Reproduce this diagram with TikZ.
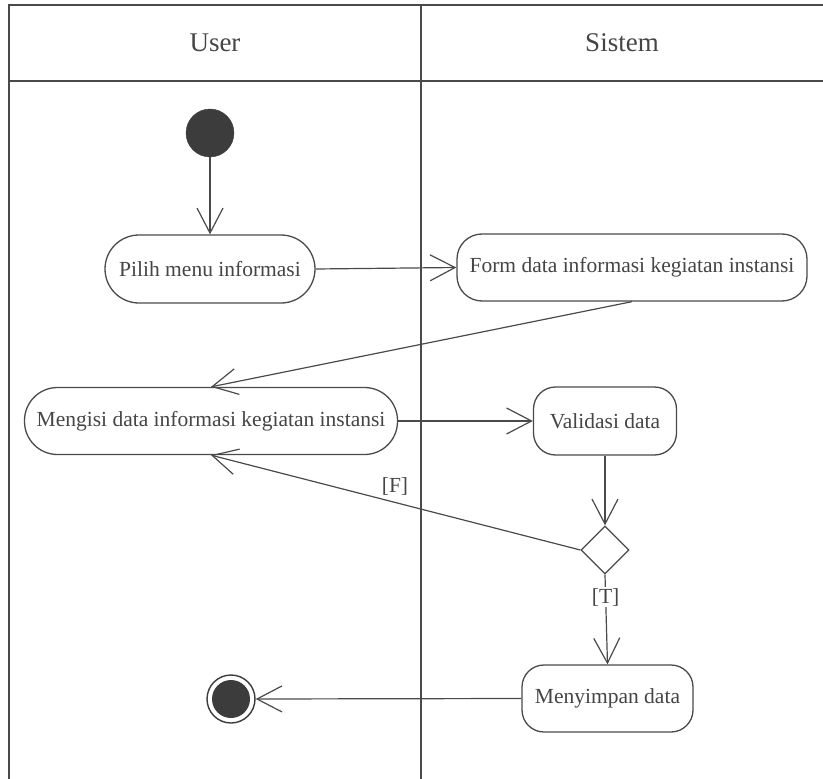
\documentclass[tikz,border=0pt]{standalone}
\usepackage{fontspec}
\setmainfont{Liberation Serif}
\usetikzlibrary{arrows.meta,shapes.geometric}
\definecolor{ln}{HTML}{4A4A4A}
\definecolor{tx}{HTML}{454545}
\definecolor{dk}{HTML}{3C3C3C}
\tikzset{
  act/.style={draw=ln, line width=1.3pt, fill=white, text=tx, rectangle, inner sep=0pt,
    font=\fontsize{21.5}{25}\selectfont},
  flow/.style={draw=ln, line width=1.2pt, -{Straight Barb[length=25pt,width=26pt,line width=1.2pt]}},
  lbl/.style={text=tx, font=\fontsize{21.5}{25}\selectfont, inner sep=1pt},
  hdr/.style={text=tx, font=\fontsize{27}{32}\selectfont},
  frame/.style={draw=ln, line width=1.6pt}
}
\begin{document}
\begin{tikzpicture}[x=1pt,y=-1pt]
\useasboundingbox (0,0) rectangle (823,779);
% swimlanes
\draw[frame] (9,779) -- (9,5) -- (823,5);
\draw[frame] (9,81) -- (823,81);
\draw[frame] (421,5) -- (421,779);
\node[hdr] (huser) at (215,43) {User};
\node[hdr] (hsis) at (622,43) {Sistem};
% nodes
\node[circle, fill=dk, draw=dk, minimum size=48pt, inner sep=0pt] (start) at (210,133) {};
\node[act, minimum width=210pt, minimum height=68pt, rounded corners=34pt] (pilih) at (210,269) {Pilih menu informasi};
\node[act, minimum width=350pt, minimum height=67pt, rounded corners=25pt] (form) at (632,267.5) {Form data informasi kegiatan instansi};
\node[act, minimum width=373pt, minimum height=67pt, rounded corners=33pt] (mengisi) at (211,421) {Mengisi data informasi kegiatan instansi};
\node[act, minimum width=143pt, minimum height=68pt, rounded corners=22pt] (valid) at (605,421) {Validasi data};
\node[draw=ln, line width=1.3pt, fill=white, diamond, minimum width=48pt, minimum height=48pt, inner sep=0pt] (dec) at (605,550) {};
\node[act, minimum width=171pt, minimum height=67pt, rounded corners=22pt] (simpan) at (607.5,698.5) {Menyimpan data};
\node[circle, draw=dk, line width=1.4pt, fill=white, minimum size=48pt, inner sep=0pt] (endo) at (231,699) {};
\node[circle, fill=dk, minimum size=38pt, inner sep=0pt] (endi) at (endo) {};
% connectors
\draw[flow] (start) -- (pilih.north);
\draw[flow] (pilih.east) -- (form.west);
\draw[flow] (form.south) -- (mengisi.north);
\draw[flow] (mengisi.east) -- (valid.west);
\draw[flow] (valid.south) -- (dec.north);
\draw[flow] (dec.west) -- (mengisi.south);
\node[lbl] (flbl) at (395,486) {[F]};
\draw[flow] (dec.south) -- node[lbl, pos=0.25, fill=white] (tlbl) {[T]} (simpan.north);
\draw[flow] (simpan.west) -- (endo.east);
\end{tikzpicture}
\end{document}
